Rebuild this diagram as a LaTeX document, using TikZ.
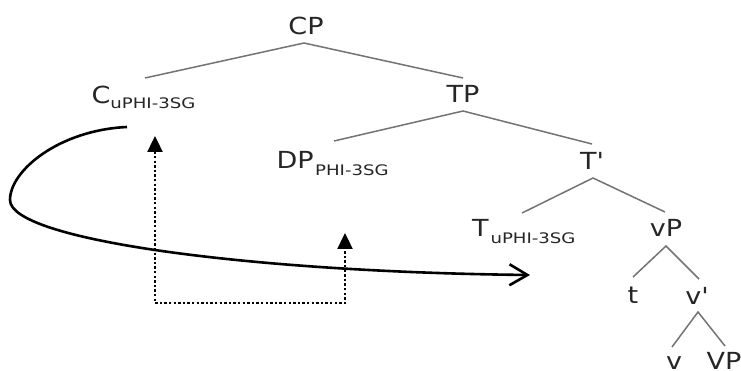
\documentclass[tikz,border=0pt]{standalone}
\usepackage{fontspec}
\usetikzlibrary{arrows.meta}
\newfontfamily\treefont{DejaVu Sans}[FakeStretch=1.15]
\newfontfamily\subfontfam{DejaVu Sans}[FakeStretch=1.25]
\newcommand{\featsub}[2]{\raisebox{#1}{\subfontfam\fontsize{14.5}{16}\selectfont #2}}
\begin{document}
\begin{tikzpicture}[x=1pt,y=-1pt,
  lab/.style={inner sep=0pt,outer sep=0pt,font=\treefont\fontsize{23.5}{28}\selectfont,text=black!85},
  branch/.style={draw=black!55,line width=1.5pt},
  agree/.style={draw=black,line width=2.4pt,dash pattern=on 2.4pt off 2.2pt,
     {Triangle[length=16pt,width=15pt]}-{Triangle[length=16pt,width=15pt]}},
  moveline/.style={draw=black,line width=2.6pt,-{Straight Barb[length=18pt,width=21pt,line width=2.6pt]}}]
\clip (0,0) rectangle (741,371);
\fill[white] (0,0) rectangle (741,371);
% labels
\node[lab,anchor=base] (CP) at (306,35) {CP};
\node[lab,anchor=base west] (C) at (91.5,104) {C\featsub{-5pt}{uPHI-3SG}};
\node[lab,anchor=base] (TP) at (463,103) {TP};
\node[lab,anchor=base west] (DP) at (276.5,169) {DP\kern1.5pt\featsub{-7pt}{PHI-3SG}};
\node[lab,anchor=base] (Tbar) at (592,170) {T'};
\node[lab,anchor=base west] (T) at (472,237) {T\kern2pt\featsub{-6pt}{uPHI-3SG}};
\node[lab,anchor=base] (vP) at (666,237) {vP};
\node[lab,anchor=base] (t) at (633,303) {t};
\node[lab,anchor=base] (vbar) at (697,304) {v'};
\node[lab,anchor=base] (v) at (674,369) {v};
\node[lab,anchor=base] (VP) at (724,369) {VP};
% branch points
\coordinate (CPd) at (304,43);
\coordinate (Cu) at (145,78);
\coordinate (TPu) at (463,78);
\coordinate (TPd) at (463,111);
\coordinate (DPu) at (334,141);
\coordinate (Tbaru) at (592,144);
\coordinate (Tbard) at (593,178);
\coordinate (Tu) at (522,213);
\coordinate (vPu) at (665,212);
\coordinate (vPd) at (666,246);
\coordinate (tu) at (633,277);
\coordinate (vbaru) at (699,279);
\coordinate (vbard) at (698,312);
\coordinate (vu) at (672,347);
\coordinate (VPu) at (725,346);
\draw[branch] (Cu) -- (CPd) -- (TPu);
\draw[branch] (DPu) -- (TPd) -- (Tbaru);
\draw[branch] (Tu) -- (Tbard) -- (vPu);
\draw[branch] (tu) -- (vPd) -- (vbaru);
\draw[branch] (vu) -- (vbard) -- (VPu);
% agreement (dotted) arrows
\coordinate (Cprobe) at (155,136);
\coordinate (DPgoal) at (345,233);
\coordinate (cornerL) at (155,303);
\coordinate (cornerR) at (345,303);
\draw[agree] (Cprobe) -- (cornerL) -- (cornerR) -- (DPgoal);
% movement arrow
\coordinate (mstart) at (127,127);
\coordinate (mturn) at (10,200);
\coordinate (mend) at (530,275);
\draw[moveline] (mstart) .. controls (60,130) and (10,170) .. (mturn)
  .. controls (10,240) and (250,272) .. (mend);
\end{tikzpicture}
\end{document}
